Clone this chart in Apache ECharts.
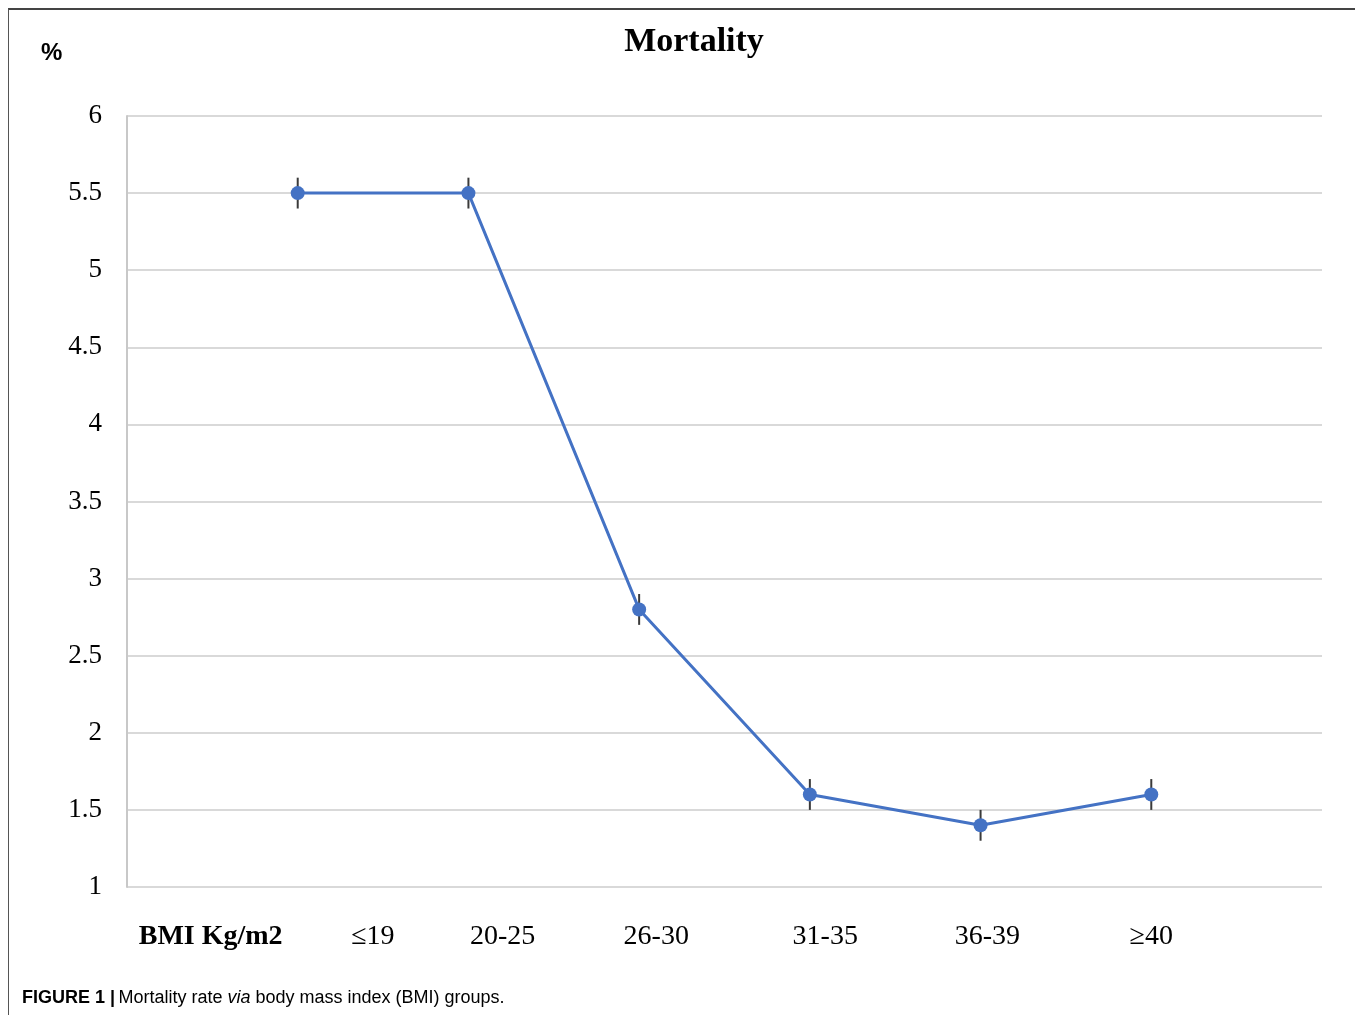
<!DOCTYPE html>
<html>
<head>
<meta charset="utf-8">
<script src="https://cdn.jsdelivr.net/npm/echarts@6/dist/echarts.min.js"></script>
<style>
  html, body { margin: 0; padding: 0; background: #fff; }
  #frame { position: absolute; left: 8px; top: 8px; width: 1347px; height: 1007px;
           border-top: 2px solid #444; border-left: 1.5px solid #555; box-sizing: border-box; }
  #chart { position: absolute; left: 0; top: 0; width: 1355px; height: 1015px; }
</style>
</head>
<body>
<div id="frame"></div>
<div id="chart"></div>
<script>
// Data
const categories = ['\u226419', '20-25', '26-30', '31-35', '36-39', '\u226540'];
const mortality = [5.5, 5.5, 2.8, 1.6, 1.4, 1.6];
const errorHalf = [0.1, 0.1, 0.1, 0.1, 0.1, 0.1];
const yTicks = [1, 1.5, 2, 2.5, 3, 3.5, 4, 4.5, 5, 5.5, 6];
const axisTitle = 'BMI Kg/m2';
// label centres along the x scale (the reference labels are offset from the points)
const labelSlots = [0.49, 1.44, 2.2, 3.1, 4.09, 5.04, 6.0];

const serif = '"Liberation Serif", "DejaVu Serif", serif';
const sans = '"Liberation Sans", Arial, sans-serif';

const chart = echarts.init(document.getElementById('chart'), null, { renderer: 'canvas' });

const points = mortality.map((v, i) => [i + 1, v]);
const errs = mortality.map((v, i) => [i + 1, v - errorHalf[i], v + errorHalf[i]]);

chart.setOption({
  animation: false,
  backgroundColor: 'transparent',
  title: {
    text: 'Mortality', left: 689, top: 20, textAlign: 'center',
    textStyle: { fontFamily: serif, fontWeight: 'bold', fontSize: 34, color: '#000' }
  },
  grid: { left: 127, right: 33, top: 116, bottom: 128 },
  xAxis: {
    type: 'value', min: 0, max: 7,
    axisLine: { show: false }, axisTick: { show: false },
    axisLabel: { show: false }, splitLine: { show: false }
  },
  yAxis: {
    type: 'value', min: 1, max: 6, interval: 0.5,
    axisLine: { show: true, lineStyle: { color: '#c8c8c8', width: 2 } },
    axisTick: { show: false },
    axisLabel: {
      fontFamily: serif, fontSize: 27, color: '#000', margin: 25,
      padding: [3, 0, 0, 0],
      formatter: v => String(v)
    },
    splitLine: { show: true, lineStyle: { color: '#d9d9d9', width: 2 } }
  },
  series: [
    {
      type: 'custom',
      data: errs,
      z: 1,
      renderItem: (params, api) => {
        const x = api.value(0);
        const lo = api.coord([x, api.value(1)]);
        const hi = api.coord([x, api.value(2)]);
        return {
          type: 'line',
          shape: { x1: lo[0], y1: lo[1], x2: hi[0], y2: hi[1] },
          style: { stroke: '#3a3a3a', lineWidth: 2 }
        };
      }
    },
    {
      type: 'line',
      data: points,
      z: 3,
      symbol: 'circle', symbolSize: 14,
      lineStyle: { color: '#4472C4', width: 3 },
      itemStyle: { color: '#4472C4' }
    }
  ],
  graphic: [
    {
      type: 'text', left: 41, top: 41,
      style: { text: '%', font: 'bold 24px ' + sans, fill: '#000' }
    },
    {
      type: 'text', left: 22, top: 989,
      style: {
        text: '{b|FIGURE 1 |} {n|Mortality rate }{i|via}{n| body mass index (BMI) groups.}',
        rich: {
          b: { fontFamily: sans, fontWeight: 'bold', fontSize: 18, color: '#111' },
          n: { fontFamily: sans, fontSize: 18, color: '#222' },
          i: { fontFamily: sans, fontStyle: 'italic', fontSize: 18, color: '#222' }
        }
      }
    }
  ]
});

// x labels placed through the x scale
const labels = [axisTitle].concat(categories);
const labelGraphics = labels.map((t, i) => {
  const px = chart.convertToPixel({ xAxisIndex: 0 }, labelSlots[i]);
  return {
    id: 'xl' + i,
    type: 'text', x: px, y: 937,
    style: {
      text: t, align: 'center', verticalAlign: 'middle',
      font: (i === 0 ? 'bold ' : '') + '28px ' + serif, fill: '#000'
    }
  };
});
chart.setOption({ graphic: labelGraphics });
</script>
</body>
</html>
